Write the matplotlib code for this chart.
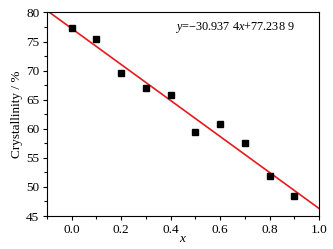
import numpy as np
import matplotlib
matplotlib.use("Agg")
import matplotlib.pyplot as plt
from matplotlib.ticker import MultipleLocator

plt.rcParams['font.family'] = ['Liberation Serif', 'DejaVu Serif']
plt.rcParams['mathtext.fontset'] = 'custom'
plt.rcParams['mathtext.rm'] = 'Liberation Serif'
plt.rcParams['mathtext.it'] = 'Liberation Serif:italic'

# data
x_vals = [0.0, 0.1, 0.2, 0.3, 0.4, 0.5, 0.6, 0.7, 0.8, 0.9]
crystallinity = [77.3, 75.5, 69.6, 67.0, 65.8, 59.4, 60.9, 57.6, 51.8, 48.4]
slope = -30.9374
intercept = 77.2389

fig = plt.figure(figsize=(3.33, 2.49), dpi=100)
ax = fig.add_axes([0.141, 0.1325, 0.817, 0.8175])

xf = np.array([-0.1, 1.0])
ax.plot(xf, slope * xf + intercept, color='#e8191c', lw=1.2)
ax.plot(x_vals, crystallinity, 's', color='black', ms=4.8)

ax.set_xlim(-0.1, 1.0)
ax.set_ylim(45, 80)
ax.xaxis.set_major_locator(MultipleLocator(0.2))
ax.xaxis.set_minor_locator(MultipleLocator(0.1))
ax.yaxis.set_major_locator(MultipleLocator(5))
ax.yaxis.set_minor_locator(MultipleLocator(2.5))
ax.tick_params(which='both', direction='out', labelsize=9.5, top=False, right=False)
ax.tick_params(which='major', length=3, width=0.8, pad=2.5)
ax.tick_params(which='minor', length=2, width=0.8)
for s in ax.spines.values():
    s.set_linewidth(0.8)

ax.set_xlabel('$x$', fontsize=9.5, labelpad=-2)
ax.set_ylabel('Crystallinity / %', fontsize=9.5, labelpad=2)
ax.text(0.47, 0.927, r'$y$=$-$30.937 4$x$+77.238 9', transform=ax.transAxes,
        fontsize=8.8, va='center', ha='left')

fig.savefig('out.png', dpi=100)
